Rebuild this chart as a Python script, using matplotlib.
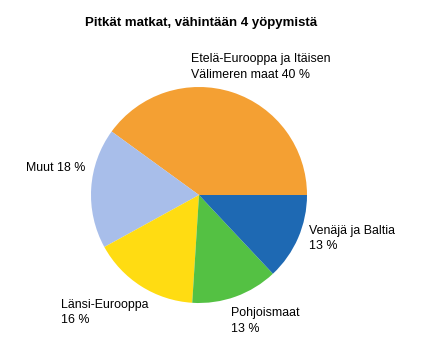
import matplotlib
matplotlib.use("Agg")
import matplotlib.pyplot as plt

plt.rcParams['font.family'] = ['Liberation Sans', 'DejaVu Sans']

categories = ["Etelä-Eurooppa ja Itäisen\nVälimeren maat", "Muut", "Länsi-Eurooppa", "Pohjoismaat", "Venäjä ja Baltia"]
values = [40, 18, 16, 13, 13]
colors = ["#F4A033", "#A8BEEA", "#FFDC12", "#54C143", "#1E69B3"]
title = "Pitkät matkat, vähintään 4 yöpymistä"

W, H = 427, 360
fig = plt.figure(figsize=(W/100, H/100), dpi=100)
cx, cy, r = 199, 195, 108
ax = fig.add_axes([(cx - r)/W, (H - cy - r)/H, 2*r/W, 2*r/H])
ax.pie(values, colors=colors, startangle=0, counterclock=True,
       wedgeprops=dict(linewidth=0))
ax.set_aspect('equal')
ax.set_xlim(-1, 1); ax.set_ylim(-1, 1)
ax.axis('off')

fig.text(201/W, 1 - 23/H, title, ha='center', va='center', fontsize=9.5, fontweight='bold')

# label positions (pixel, left x, center y of each line)
label_pos = [(191, [59, 75]), (26, [168]), (61, [305, 320]), (231, [313, 329]), (309, [231, 246])]
for cat, v, (x, ys) in zip(categories, values, label_pos):
    if len(ys) == 1:
        lines = [f"{cat} {v} %"]
    elif "\n" in cat:
        a, b = cat.split("\n")
        lines = [a, f"{b} {v} %"]
    else:
        lines = [cat, f"{v} %"]
    for line, y in zip(lines, ys):
        fig.text(x/W, 1 - y/H, line, ha='left', va='center', fontsize=8.9)

fig.savefig("out.png", dpi=100)
